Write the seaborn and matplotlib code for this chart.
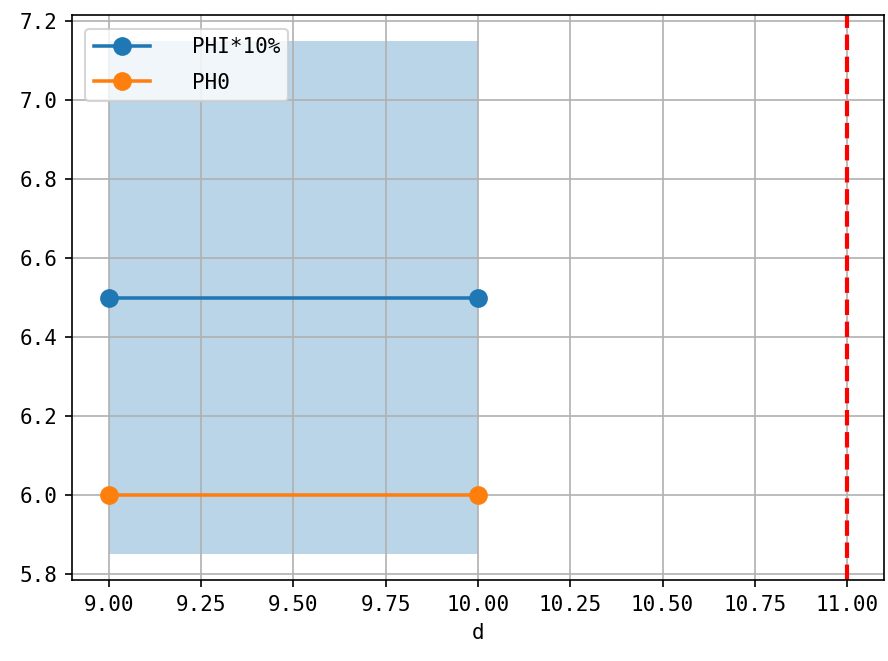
import matplotlib
matplotlib.use("Agg")
import matplotlib.pyplot as plt
import seaborn as sns
import pandas as pd

# data
d_values = [9.0, 10.0]
phi_values = [6.5, 6.5]
ph0_values = [6.0, 6.0]
band_x = [9.0, 10.0]
band_low = 5.85
band_high = 7.15
vline_x = 11.0
labels = ["PHI*10%", "PH0"]

plt.rcParams['font.family'] = ['DejaVu Sans Mono', 'Noto Sans CJK SC', 'DejaVu Sans']
plt.rcParams['axes.unicode_minus'] = False

df = pd.DataFrame({"d": d_values, "phi": phi_values, "ph0": ph0_values})

fig, ax = plt.subplots(figsize=(888/150, 661/150), dpi=150)
sns.lineplot(data=df, x="d", y="phi", marker="o", markersize=9, markeredgewidth=0,
             linewidth=1.7, color="#1f77b4", label=labels[0], ax=ax)
sns.lineplot(data=df, x="d", y="ph0", marker="o", markersize=9, markeredgewidth=0,
             linewidth=1.7, color="#ff7f0e", label=labels[1], ax=ax)
ax.fill_between(band_x, band_low, band_high, color="#1f77b4", alpha=0.3, linewidth=0)
ax.axvline(vline_x, color="red", linestyle="--", linewidth=2)
ax.grid(True)
ax.set_xlabel("d")
ax.set_ylabel("")
ax.legend(loc="upper left", handlelength=2.7, handletextpad=2.0,
          labelspacing=0.75, borderaxespad=0.65)
fig.subplots_adjust(left=0.081, right=0.9955, top=0.977, bottom=0.1225)
fig.savefig("out.png", dpi=150)
